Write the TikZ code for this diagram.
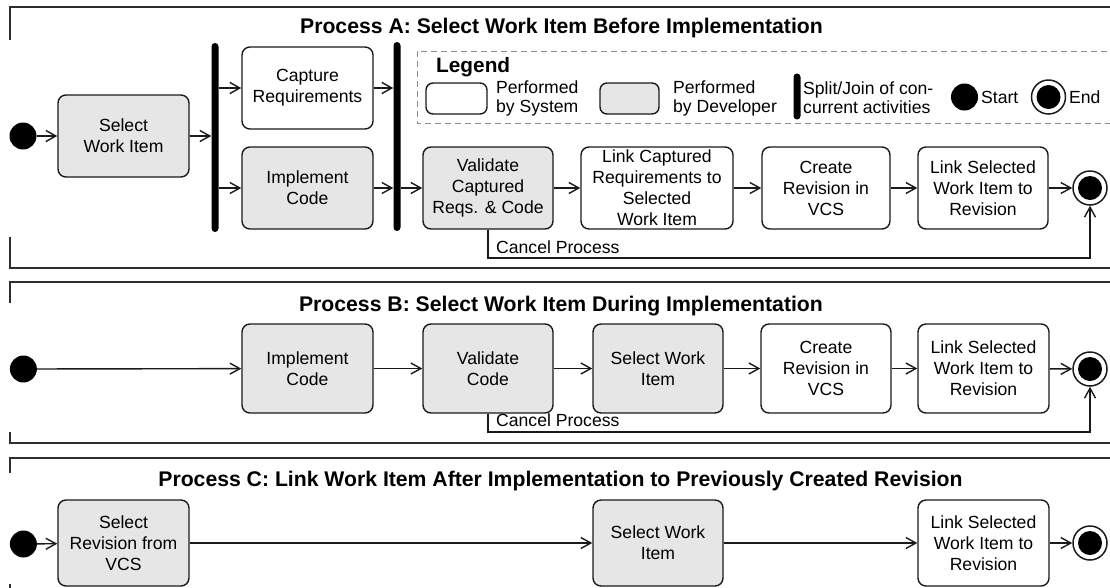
\documentclass[tikz,border=0pt]{standalone}
\usepackage{fontspec}
\setmainfont{Liberation Sans}
\usetikzlibrary{arrows.meta}
\definecolor{ink}{HTML}{1A1A1A}
\definecolor{devfill}{HTML}{E6E6E6}
\definecolor{framecol}{HTML}{2E2E2E}
\definecolor{legcol}{HTML}{8C8C8C}
\newcommand\actfont{\fontsize{17.6}{21}\selectfont}
\newcommand\legtextfont{\fontsize{17.6}{19.5}\selectfont}
\newcommand\ttlfont{\fontsize{21.2}{25}\selectfont\bfseries}

\begin{document}
\begin{tikzpicture}[x=1pt,y=-1pt,
  act/.style={draw=ink, line width=1.4pt, rounded corners=8pt, align=center,
    font=\actfont, inner sep=0pt, text=black},
  sysact/.style={act, fill=white},
  devact/.style={act, fill=devfill},
  box/.style={minimum width=131pt, minimum height=82pt},
  boxb/.style={minimum width=131pt, minimum height=89pt},
  boxc/.style={minimum width=131pt, minimum height=86pt},
  bar/.style={fill=black, draw=none, minimum width=7pt, inner sep=0pt, rounded corners=3.5pt},
  startnode/.style={circle, fill=black, draw=none, minimum size=27pt, inner sep=0pt},
  endnode/.style={circle, draw=ink, line width=1.5pt, fill=white, minimum size=34pt, inner sep=0pt,
    path picture={\fill[black] (path picture bounding box.center) circle (12pt);}},
  flow/.style={draw=ink, line width=1.4pt, -{Straight Barb[length=10pt,width=11pt]}},
  frameline/.style={draw=framecol, line width=2pt},
  ttl/.style={font=\ttlfont, inner sep=0pt},
  lbl/.style={font=\actfont, inner sep=0pt, anchor=west},
  legtext/.style={font=\legtextfont, inner sep=0pt, anchor=west, align=left},
]
\useasboundingbox (0,0) rectangle (1110,587);
\clip (0,0) rectangle (1110,587);

% ---------- Process A ----------
\draw[frameline] (10,40) -- (10,7) -- (1130,7);
\draw[frameline] (10,237) -- (10,268) -- (1130,268);
\node[ttl] (ttlA) at (561.5,28.5) {Process A: Select Work Item Before Implementation};

% legend
\draw[legcol, line width=1pt, dash pattern=on 6pt off 4pt] (417,51) rectangle (1140,123);
\node[font=\fontsize{20.8}{24}\selectfont\bfseries, inner sep=0pt, anchor=west] (legT) at (436,67) {Legend};
\node[sysact, minimum width=61pt, minimum height=31pt, rounded corners=7pt] (lgSys) at (456.5,98.5) {};
\node[legtext] (lgSysT) at (496,98.5) {Performed\\by System};
\node[devact, minimum width=59pt, minimum height=31pt, rounded corners=7pt] (lgDev) at (629.5,98.5) {};
\node[legtext] (lgDevT) at (673,98.5) {Performed\\by Developer};
\node[bar, minimum height=46pt] (lgBar) at (797,96.5) {};
\node[legtext] (lgBarT) at (803,97.5) {Split/Join of con-\\current activities};
\node[startnode] (lgStart) at (964.5,97) {};
\node[legtext] (lgStartT) at (981,97) {Start};
\node[endnode] (lgEnd) at (1048.5,97) {};
\node[legtext] (lgEndT) at (1069,97) {End};

% activities
\node[startnode] (stA) at (23,136) {};
\node[devact, box] (selA) at (123.5,136) {Select\\Work Item};
\node[bar, minimum height=189pt] (barA1) at (215,137.5) {};
\node[sysact, box] (capA) at (307.5,88) {Capture\\Requirements};
\node[devact, box] (impA) at (307.5,188) {Implement\\Code};
\node[bar, minimum height=189pt] (barA2) at (397,136.5) {};
\node[devact, box, minimum width=130pt] (valA) at (488,188) {Validate\\Captured\\Reqs. \& Code};
\node[sysact, box, minimum width=152pt] (lnkA) at (657,188) {Link Captured\\Requirements to\\Selected\\Work Item};
\node[sysact, box, minimum width=128pt] (creA) at (826,188) {Create\\Revision in\\VCS};
\node[sysact, box, minimum width=130pt] (wiA) at (983,188) {Link Selected\\Work Item to\\Revision};
\node[endnode] (endA) at (1090,188) {};

\draw[flow] (stA) -- (selA);
\draw[flow] (selA.east) -- (selA.east -| barA1.west);
\draw[flow] (barA1.east |- capA.west) -- (capA.west);
\draw[flow] (barA1.east |- impA.west) -- (impA.west);
\draw[flow] (capA.east) -- (capA.east -| barA2.west);
\draw[flow] (impA.east) -- (impA.east -| barA2.west);
\draw[flow] (barA2.east |- valA.west) -- (valA.west);
\draw[flow] (valA) -- (lnkA);
\draw[flow] (lnkA) -- (creA);
\draw[flow] (creA) -- (wiA);
\draw[flow] (wiA) -- (endA);
\coordinate (cnA) at (1090,258);
\draw[flow] (valA.south) |- (cnA) -- (endA.south);
\node[lbl] (cnAT) at (496,247) {Cancel Process};

% ---------- Process B ----------
\draw[frameline] (10,303) -- (10,282) -- (1130,282);
\draw[frameline] (10,432) -- (10,443) -- (1130,443);
\node[ttl] (ttlB) at (561,306) {Process B: Select Work Item During Implementation};

\node[startnode] (stB) at (23.4,369) {};
\node[devact, boxb] (impB) at (307.5,368.5) {Implement\\Code};
\node[devact, boxb, minimum width=130pt] (valB) at (488,368.5) {Validate\\Code};
\node[devact, boxb, minimum width=130pt] (selB) at (658,368.5) {Select Work\\Item};
\node[sysact, boxb, minimum width=130pt] (creB) at (826,368.5) {Create\\Revision in\\VCS};
\node[sysact, boxb] (wiB) at (983.5,368.5) {Link Selected\\Work Item to\\Revision};
\node[endnode] (endB) at (1090,369) {};

\draw[flow] (stB) -- (impB);
\draw[flow] (impB) -- (valB);
\draw[flow] (valB) -- (selB);
\draw[flow] (selB) -- (creB);
\draw[flow] (creB) -- (wiB);
\draw[flow] (wiB) -- (endB);
\coordinate (cnB) at (1090,432);
\draw[flow] (valB.south) |- (cnB) -- (endB.south);
\node[lbl] (cnBT) at (496,420) {Cancel Process};

% ---------- Process C ----------
\draw[frameline] (10,473) -- (10,458) -- (1130,458);
\draw[frameline] (10,584) -- (10,600);
\node[ttl] (ttlC) at (560.5,481) {Process C: Link Work Item After Implementation to Previously Created Revision};

\node[startnode] (stC) at (23.4,544) {};
\node[devact, boxc] (srC) at (123.5,543) {Select\\Revision from\\VCS};
\node[devact, boxc, minimum width=130pt] (selC) at (658,543) {Select Work\\Item};
\node[sysact, boxc] (wiC) at (983.5,543) {Link Selected\\Work Item to\\Revision};
\node[endnode] (endC) at (1090,543) {};

\draw[flow] (stC) -- (srC);
\draw[flow] (srC) -- (selC);
\draw[flow] (selC) -- (wiC);
\draw[flow] (wiC) -- (endC);
\end{tikzpicture}
\end{document}
